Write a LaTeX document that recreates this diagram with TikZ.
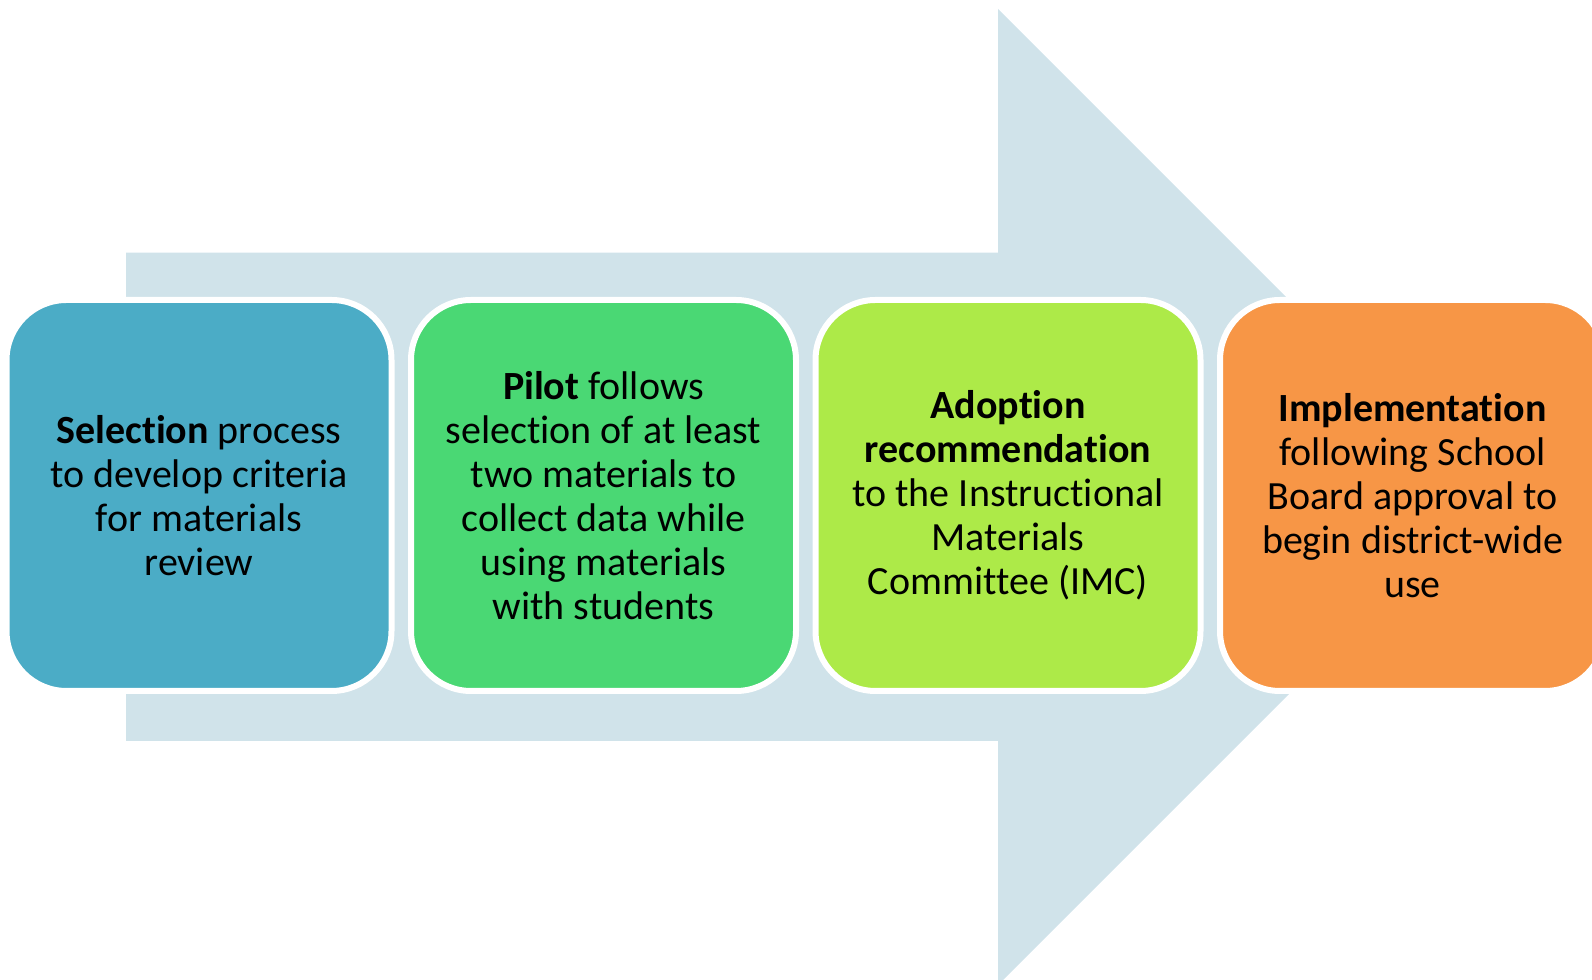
\documentclass[tikz,border=0pt]{standalone}
\usepackage{fontspec}
\setmainfont[Ligatures={NoCommon,NoContextual,NoRare},Contextuals={NoAlternate}]{Carlito}
\usepackage{tikz}
\usetikzlibrary{positioning}
\definecolor{arrowbg}{RGB}{208,227,234}
\definecolor{selblue}{RGB}{75,172,198}
\definecolor{pilgreen}{RGB}{74,216,116}
\definecolor{adolime}{RGB}{173,234,72}
\definecolor{imporange}{RGB}{247,150,70}

\begin{document}
\begin{tikzpicture}[x=0.5pt, y=0.5pt, node distance=202.25pt]
	\tikzstyle{stepbox}=[draw=white, line width=3pt, rounded corners=30pt, minimum width=192.5pt, minimum height=195.5pt, align=center, text=black, font=\fontsize{20pt}{22pt}\selectfont]
	\useasboundingbox (0,0) rectangle (1592,980);
	\clip (0,0) rectangle (1592,980);
	% big arrow behind the steps
	\fill[arrowbg] (126,239) -- (998,239) -- (998,-5) -- (1486,483) -- (998,971) -- (998,727.3) -- (126,727.3) -- cycle;
	\node[stepbox, fill=selblue]    (sel) at (199,484.5) {\textbf{Selection} process\\to develop criteria\\for materials\\review};
	\node[stepbox, fill=pilgreen]   (pil) [right of=sel] {\textbf{Pilot} follows\\selection of at least\\two materials to\\collect data while\\using materials\\with students};
	\node[stepbox, fill=adolime]    (ado) [right of=pil] {\textbf{Adoption}\\\textbf{recommendation}\\to the Instructional\\Materials\\Committee (IMC)};
	\node[stepbox, fill=imporange]  (imp) [right of=ado] {\textbf{Implementation}\\following School\\Board approval to\\begin district-wide\\use};
\end{tikzpicture}
\end{document}
